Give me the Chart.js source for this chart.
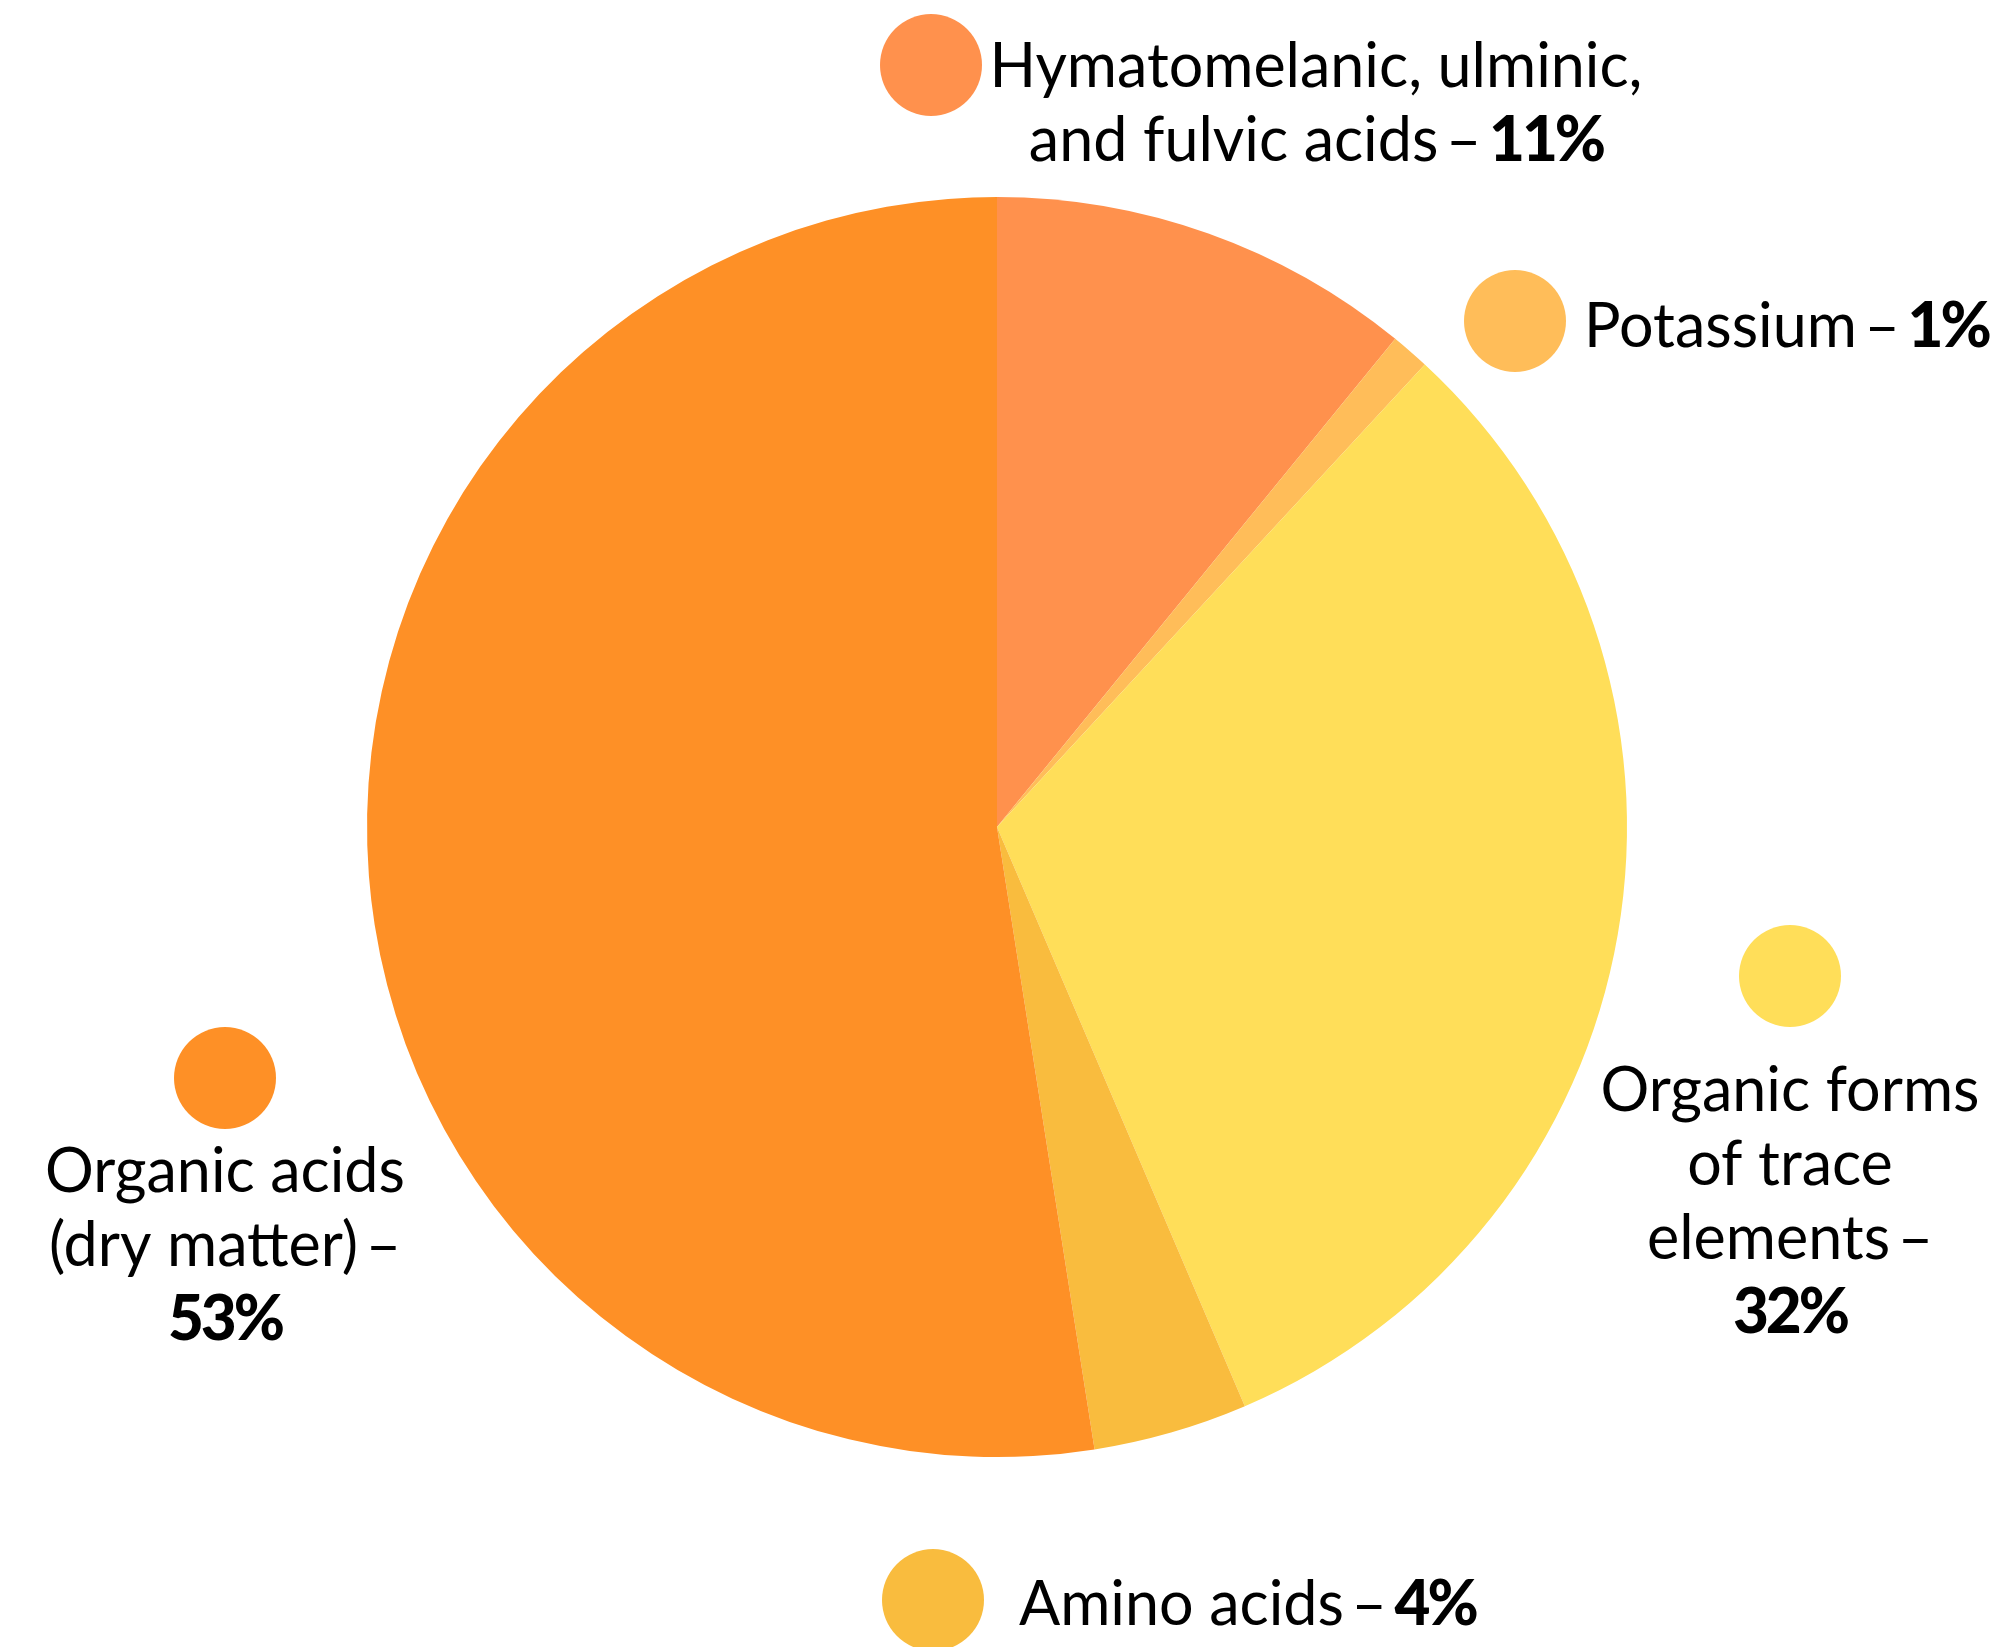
<!DOCTYPE html>
<html>
<head>
<meta charset="utf-8">
<script src="https://cdn.jsdelivr.net/npm/chart.js@4"></script>
<style>
  html, body { margin: 0; padding: 0; background: #fff; }
  #wrap { width: 1998px; height: 1647px; }
</style>
</head>
<body>
<div id="wrap"><canvas id="pie-chart"></canvas></div>
<script>
  // Data
  const labels = ['Hymatomelanic, ulminic, and fulvic acids', 'Potassium', 'Organic forms of trace elements', 'Amino acids', 'Organic acids (dry matter)'];
  const shares = [11, 1, 32, 4, 53];
  const colors = ['#ff914d', '#ffbd59', '#ffde59', '#f9bc3e', '#fe9026'];

  // Label text, broken into lines as in the picture (the bold value goes after the last line)
  const labelLines = [
    ['Hymatomelanic, ulminic,', 'and fulvic acids\u2009–\u2009'],
    ['Potassium\u2009–\u2009'],
    ['Organic forms', 'of trace', 'elements\u2009–', ''],
    ['Amino acids\u2009–\u2009'],
    ['Organic acids', '(dry matter)\u2009–', '']
  ];

  // where each label sits: dot centre, text anchor, first baseline
  const labelLayout = [
    { dot: [931, 65], x: 1316, y: 87, align: 'center' },
    { dot: [1515, 321], x: 1584, y: 347, align: 'left' },
    { dot: [1790, 976], x: 1790, y: 1111, align: 'center' },
    { dot: [933, 1600], x: 1019, y: 1625, align: 'left' },
    { dot: [225, 1078], x: 225, y: 1192, align: 'center' }
  ];

  const FONT = '61px Lato';
  const BOLD = '900 62px Lato';
  const LINE = 74;

  const labelPlugin = {
    id: 'sideLabels',
    afterDraw(chart) {
      const ctx = chart.ctx;
      ctx.save();
      ctx.textBaseline = 'alphabetic';
      ctx.textAlign = 'left';
      labelLines.forEach((lines, i) => {
        const lay = labelLayout[i];
        ctx.fillStyle = colors[i];
        ctx.beginPath();
        ctx.arc(lay.dot[0], lay.dot[1], 51, 0, Math.PI * 2);
        ctx.fill();

        ctx.fillStyle = '#000';
        lines.forEach((txt, j) => {
          const bold = j === lines.length - 1 ? shares[i] + '%' : '';
          ctx.font = FONT;
          ctx.letterSpacing = '0px';
          const w1 = ctx.measureText(txt).width;
          ctx.font = BOLD;
          ctx.letterSpacing = '-3px';
          const w2 = bold ? ctx.measureText(bold).width : 0;
          const x = lay.align === 'center' ? lay.x - (w1 + w2) / 2 : lay.x;
          const y = lay.y + j * LINE;
          ctx.font = FONT;
          ctx.letterSpacing = '0px';
          ctx.fillText(txt, x, y);
          if (bold) {
            ctx.font = BOLD;
            ctx.letterSpacing = '-3px';
            ctx.fillText(bold, x + w1, y);
          }
        });
      });
      ctx.restore();
    }
  };

  const ctx = document.getElementById('pie-chart').getContext('2d');
  const pieChart = new Chart(ctx, {
    type: 'pie',
    data: {
      labels: labels,
      datasets: [{
        data: shares,
        backgroundColor: colors,
        borderWidth: 0
      }]
    },
    options: {
      responsive: true,
      maintainAspectRatio: false,
      animation: false,
      layout: {
        padding: { left: 367, right: 371, top: 197, bottom: 190 }
      },
      plugins: {
        legend: { display: false },
        tooltip: { enabled: false }
      }
    },
    plugins: [labelPlugin]
  });
</script>
</body>
</html>
